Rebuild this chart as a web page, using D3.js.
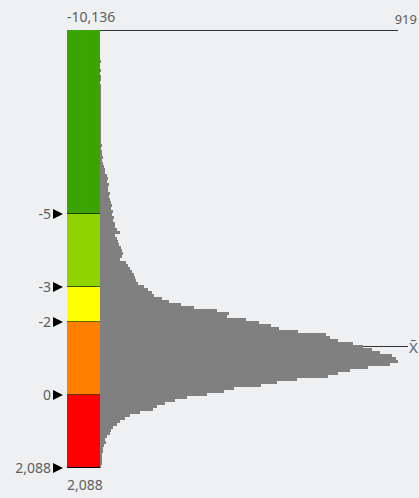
<!DOCTYPE html>
<html>
<head>
<meta charset="utf-8">
<script src="https://cdn.jsdelivr.net/npm/d3@7"></script>
<style>
  body { margin: 0; background: #eff0f2; }
  svg { display: block; font-family: "Noto Sans", sans-serif; }
</style>
</head>
<body>
<div id="chart"></div>
<script>
// threshold stops of the colour bar (top to bottom)
var stops = [-10136, -5, -3, -2, 0, 2088]
var stopLabels = ["-10,136", "-5", "-3", "-2", "0", "2,088"]
var bandColors = ["#3ba400", "#8fd400", "#ffff00", "#ff8000", "#ff0000"]

// histogram counts per bin, top to bottom
var counts = [
  0, 0, 1, 0, 1, 1, 0, 1, 1, 1, 2, 1, 1, 2, 1, 2, 2, 1, 2, 2,
  2, 3, 2, 2, 3, 2, 3, 3, 2, 3, 3, 4, 3, 3, 4, 4, 3, 4, 5, 4,
  6, 6, 9, 6, 9, 12, 15, 15, 21, 24, 21, 28, 24, 24, 31, 28, 31, 34, 37, 34,
  40, 37, 43, 40, 46, 46, 52, 61, 46, 52, 55, 58, 64, 67, 70, 67, 61, 80, 86, 92,
  98, 104, 107, 110, 116, 135, 147, 159, 168, 190, 214, 251, 291, 361, 398, 392, 450, 490, 526, 551,
  612, 698, 710, 734, 780, 811, 838, 863, 900, 912, 919, 894, 826, 771, 734, 704, 606, 545, 496, 413,
  383, 330, 269, 230, 199, 177, 162, 122, 92, 77, 61, 52, 40, 34, 31, 21, 15, 18, 12, 9,
  9, 6, 6, 6, 6, 3
]
var maxCount = 919
var meanValue = -1.34

var width = 419, height = 498
var barTop = 30, barBottom = 468
var barLeft = 67, barRight = 100

var svg = d3.select("#chart").append("svg")
  .attr("width", width)
  .attr("height", height)

svg.append("rect")
  .attr("width", width).attr("height", height)
  .attr("fill", "#eff0f2")

// piecewise scale for the colour bar
var y = d3.scaleLinear()
  .domain(stops)
  .range([barTop, 214, 287, 322, 395, barBottom])

var yBin = d3.scaleBand()
  .domain(d3.range(counts.length))
  .range([barTop, barBottom])

var x = d3.scaleLinear()
  .domain([0, maxCount])
  .range([barRight, 398])

// max line + label
svg.append("line")
  .attr("x1", barRight).attr("x2", x(maxCount))
  .attr("y1", y(stops[0]) + 0.5).attr("y2", y(stops[0]) + 0.5)
  .attr("stroke", "#333").attr("stroke-width", 1)

svg.append("text")
  .attr("x", 417).attr("y", 24)
  .attr("text-anchor", "end")
  .attr("font-size", 13).attr("fill", "#5e5e5e")
  .text(d3.format(",")(maxCount))

// mean line (drawn under the bars)
var meanY = Math.round(y(meanValue)) + 0.5
svg.append("line")
  .attr("x1", barRight).attr("x2", 408)
  .attr("y1", meanY).attr("y2", meanY)
  .attr("stroke", "#333").attr("stroke-width", 1)

svg.append("text")
  .attr("x", 409).attr("y", meanY + 6)
  .attr("font-size", 15).attr("fill", "#4e6583")
  .text("X\u0304")

// histogram bars
svg.append("g")
  .selectAll("rect")
  .data(counts)
  .enter().append("rect")
    .attr("x", barRight)
    .attr("y", function(d, i) { return yBin(i) })
    .attr("width", function(d) { return x(d) - barRight })
    .attr("height", yBin.bandwidth())
    .attr("fill", "#808080")
    .attr("shape-rendering", "crispEdges")

// colour bands
var bands = d3.pairs(stops)
svg.append("g")
  .selectAll("rect")
  .data(bands)
  .enter().append("rect")
    .attr("x", barLeft)
    .attr("y", function(d) { return y(d[0]) })
    .attr("width", barRight - barLeft)
    .attr("height", function(d) { return y(d[1]) - y(d[0]) })
    .attr("fill", function(d, i) { return bandColors[i] })
    .attr("shape-rendering", "crispEdges")

// separator lines between bands
svg.append("g")
  .selectAll("line")
  .data(stops.slice(1))
  .enter().append("line")
    .attr("x1", barLeft).attr("x2", barRight)
    .attr("y1", function(d) { return Math.round(y(d)) - 0.5 })
    .attr("y2", function(d) { return Math.round(y(d)) - 0.5 })
    .attr("stroke", "#000")
    .attr("stroke-opacity", function(d, i) { return i == stops.length - 2 ? 1 : 0.6 })

// top and bottom value labels
svg.append("text")
  .attr("x", barLeft).attr("y", 22)
  .attr("font-size", 14).attr("fill", "#5e5e5e")
  .text(stopLabels[0])

svg.append("text")
  .attr("x", barLeft).attr("y", 490)
  .attr("font-size", 14).attr("fill", "#5e5e5e")
  .text(stopLabels[stopLabels.length - 1])

// left tick markers with labels
var ticks = svg.append("g")
  .selectAll("g")
  .data(stops.slice(1))
  .enter().append("g")
    .attr("transform", function(d) { return "translate(0," + y(d) + ")" })

ticks.append("path")
  .attr("d", "M53,-5L63,0L53,5Z")
  .attr("fill", "#000")

ticks.append("text")
  .attr("x", 51).attr("y", 5)
  .attr("text-anchor", "end")
  .attr("font-size", 14).attr("fill", "#5e5e5e")
  .text(function(d, i) { return stopLabels[i + 1] })
</script>
</body>
</html>
